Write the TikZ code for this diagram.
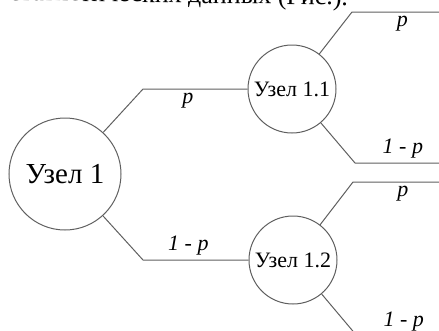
\documentclass[tikz,border=0pt]{standalone}
\usepackage{fontspec}
\setmainfont{Liberation Serif}
\newfontfamily\timesfont{Liberation Serif}
\definecolor{linegray}{RGB}{95,95,95}
\begin{document}
\begin{tikzpicture}[x=1pt,y=-1pt,
        knot/.style={circle,draw=linegray,line width=1pt,inner sep=0pt},
        branch/.style={draw=linegray,line width=1pt},
        prob/.style={font=\timesfont\fontsize{22}{22}\selectfont\itshape,inner sep=4pt}]
        \useasboundingbox (0,0) rectangle (439,330);
        \clip (0,0) rectangle (439,330);
        % caption line of the page, cut off at the top
        \node[anchor=base west,rotate=-0.9,inner sep=0pt,font=\timesfont\fontsize{26}{26}\selectfont] (cap) at (9,0) {статистических данных (Рис.).};
        \node[knot,minimum size=112pt,font=\timesfont\fontsize{29}{29}\selectfont] (n1) at (65,174) {Узел 1};
        \node[knot,minimum size=88pt,font=\timesfont\fontsize{22}{22}\selectfont] (n11) at (292,89) {Узел 1.1};
        \node[knot,minimum size=88pt,font=\timesfont\fontsize{22}{22}\selectfont] (n12) at (293,260) {Узел 1.2};
        \coordinate (b1) at (143,89);
        \coordinate (b2) at (143,260);
        \coordinate (b11u) at (352,12);
        \coordinate (e11u) at (439,12);
        \coordinate (b11d) at (355,163);
        \coordinate (e11d) at (439,163);
        \coordinate (b12u) at (353,182);
        \coordinate (e12u) at (439,182);
        \coordinate (b12d) at (357,336);
        \coordinate (e12d) at (439,336);
        \draw[branch] (n1) -- (b1) -- node[prob,below,pos=0.43]{p} (n11);
        \draw[branch] (n1) -- (b2) -- node[prob,above,pos=0.43]{1 - p} (n12);
        \draw[branch] (n11) -- (b11u) -- node[prob,below,pos=0.58]{p} (e11u);
        \draw[branch] (n11) -- (b11d) -- node[prob,above,pos=0.57]{1 - p} (e11d);
        \draw[branch] (n12) -- (b12u) -- node[prob,below,pos=0.58]{p} (e12u);
        \draw[branch] (n12) -- (b12d) -- node[prob,above,pos=0.57]{1 - p} (e12d);
\end{tikzpicture}
\end{document}
